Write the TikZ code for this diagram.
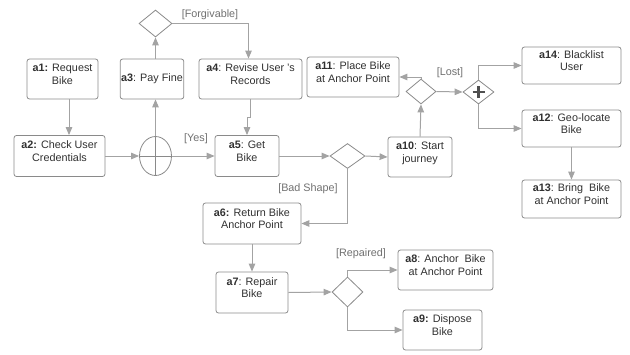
\documentclass[tikz,border=0pt]{standalone}
\usepackage{fontspec}
\setmainfont{Liberation Sans}
\usetikzlibrary{positioning, arrows.meta, shapes.geometric}
\definecolor{linegray}{HTML}{A3A3A3}
\definecolor{boxgray}{HTML}{8A8A8A}
\definecolor{textgray}{HTML}{303030}
\definecolor{guardgray}{HTML}{707070}
\tikzset{
	>={Triangle[length=8pt,width=6.5pt]},
	act/.style={draw=boxgray, line width=0.8pt, rounded corners=2.5pt, align=center, text=textgray, inner sep=1pt, font=\fontsize{10.8}{12.8}\selectfont},
	twoline/.style={text depth=10pt},
	dec/.style={diamond, draw=boxgray, line width=0.8pt, inner sep=0pt},
	guard/.style={text=guardgray, inner sep=1pt, font=\fontsize{10.8}{12.8}\selectfont},
	flow/.style={->, draw=linegray, line width=1pt},
}

\begin{document}
\begin{tikzpicture}[x=1pt, y=-1pt]
			\useasboundingbox (0,0) rectangle (630,354);
			% activities
			\node[act, twoline, minimum width=71pt, minimum height=40pt] (a1) at (62.5,79) {\textbf{a1:} Request\\Bike};
			\node[act, twoline, minimum width=91pt, minimum height=41pt] (a2) at (59.5,156) {\textbf{a2:} Check User\\Credentials};
			\node[act, minimum width=63pt, minimum height=40pt] (a3) at (152,79) {\textbf{a3}: Pay Fine};
			\node[act, twoline, minimum width=103pt, minimum height=40pt] (a4) at (250.5,79) {\textbf{a4}: Revise User 's\\Records};
			\node[act, twoline, minimum width=64pt, minimum height=41pt] (a5) at (247,156) {\textbf{a5}: Get\\Bike};
			\node[act, twoline, minimum width=98pt, minimum height=41pt] (a6) at (252,223.5) {\textbf{a6:} Return Bike\\Anchor Point};
			\node[act, twoline, minimum width=72pt, minimum height=41pt] (a7) at (252,292.5) {\textbf{a7}: Repair\\Bike};
			\node[act, twoline, minimum width=95pt, minimum height=40pt] (a8) at (445.5,270) {\textbf{a8}: Anchor\ \ Bike\\at Anchor Point};
			\node[act, twoline, minimum width=79pt, minimum height=40pt] (a9) at (442.5,330) {\textbf{a9:} Dispose\\Bike};
			\node[act, twoline, minimum width=64pt, minimum height=40pt] (a10) at (420,157) {\textbf{a10}: Start\\journey};
			\node[act, twoline, minimum width=92pt, minimum height=40pt] (a11) at (353,77) {\textbf{a11}: Place Bike\\at Anchor Point};
			\node[act, twoline, minimum width=99pt, minimum height=37pt] (a12) at (571.5,128.5) {\textbf{a12}: Geo-locate\\Bike};
			\node[act, twoline, minimum width=99pt, minimum height=38pt] (a13) at (571.5,199) {\textbf{a13}: Bring\ \ Bike\\at Anchor Point};
			\node[act, twoline, minimum width=99pt, minimum height=37pt] (a14) at (571.5,65.5) {\textbf{a14}: Blacklist\\User};
			
			% decisions and forks
			\node[ellipse, draw=boxgray, line width=0.8pt, minimum width=32pt, minimum height=39pt, inner sep=0pt] (f1) at (155.5,156) {};
			\draw[boxgray, line width=0.8pt] (f1.north) -- (f1.south) (f1.west) -- (f1.east);
			\node[dec, minimum width=33pt, minimum height=27pt] (dtop) at (155.5,23.5) {};
			\node[dec, minimum width=35pt, minimum height=25pt] (d1) at (347.5,156) {};
			\node[dec, minimum width=30pt, minimum height=25pt] (d2) at (421,91.5) {};
			\node[dec, minimum width=31pt, minimum height=30pt] (d3) at (347.5,292) {};
			\node[dec, minimum width=31pt, minimum height=24pt] (f2) at (478.5,92) {};
			\draw[textgray!85, line width=2.4pt] ([xshift=-6pt]f2.center) -- ([xshift=6pt]f2.center) ([yshift=-6pt]f2.center) -- ([yshift=6pt]f2.center);
			
			% guards
			\node[guard] (gforgive) at (210,15) {[Forgivable]};
			\node[guard] (gyes) at (196,139) {[Yes]};
			\node[guard] (gbad) at (308,189) {[Bad Shape]};
			\node[guard] (glost) at (450,73) {[Lost]};
			\node[guard] (grepair) at (361,254) {[Repaired]};
			
			% flows
			\draw[flow] ([xshift=6.5pt]a1.south) -- ([xshift=9.5pt]a2.north);
			\draw[flow] (a2.east) -- (f1.west);
			\draw[flow] (f1.north) -- (f1.north |- a3.south);
			\draw[flow] (a3.north -| dtop) -- (dtop.south);
			\draw[flow] (dtop.east) -| ([xshift=-2pt]a4.north);
			\draw[flow] (a4.south) -- ++(0,18) -| (a5.north);
			\draw[flow] (f1.east) -- (a5.west);
			\draw[flow] (a5.east) -- (d1.west);
			\draw[flow] (d1.east) -- (a10.west);
			\draw[flow] (d1.south) |- (a6.east);
			\draw[flow] (a6.south) -- (a7.north);
			\draw[flow] (a7.east) -- (d3.west);
			\draw[flow] (d3.north) |- (a8.west);
			\draw[flow] (d3.south) |- (a9.west);
			\draw[flow] (a10.north) -- (d2.south);
			\draw[flow] (d2.north) |- (a11.east);
			\draw[flow] (d2.east) -- (f2.west);
			\draw[flow] (f2.north) |- (a14.west);
			\draw[flow] (f2.south) |- (a12.west);
			\draw[flow] (a12.south) -- (a13.north);
		\end{tikzpicture}
\end{document}
